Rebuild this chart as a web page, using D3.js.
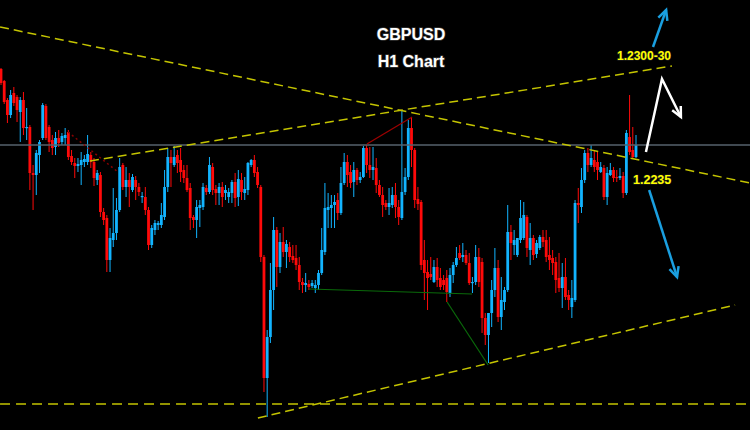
<!DOCTYPE html>
<html><head><meta charset="utf-8">
<script src="https://cdn.jsdelivr.net/npm/d3@7"></script>
<style>html,body{margin:0;padding:0;background:#000;}svg{display:block;}</style>
</head><body><svg id="c" width="750" height="430"></svg>
<script>
// GBPUSD H1 candles
const opens=[
1.22955,1.22895,1.22800,1.22725,1.22835,1.22815,1.22740,1.22800,1.22660,1.22665,
1.22435,1.22425,1.22525,1.22610,1.22770,1.22665,1.22600,1.22565,1.22610,1.22590,
1.22610,1.22640,1.22520,1.22485,1.22470,1.22475,1.22490,1.22490,1.22525,1.22490,
1.22400,1.22425,1.22240,1.22210,1.22000,1.22100,1.22135,1.22250,1.22475,1.22365,
1.22400,1.22350,1.22400,1.22365,1.22315,1.22315,1.22250,1.22075,1.22150,1.22175,
1.22175,1.22215,1.22365,1.22515,1.22475,1.22525,1.22500,1.22450,1.22410,1.22360,
1.22215,1.22200,1.22260,1.22265,1.22360,1.22340,1.22465,1.22355,1.22335,1.22365,
1.22335,1.22315,1.22335,1.22390,1.22315,1.22400,1.22335,1.22350,1.22475,1.22500,
1.22440,1.22365,1.22015,1.21410,1.21615,1.21850,1.22150,1.21965,1.22090,1.22040,
1.22065,1.22020,1.22010,1.21975,1.21890,1.21875,1.21880,1.21870,1.21860,1.21875,
1.21935,1.22040,1.22250,1.22260,1.22275,1.22300,1.22235,1.22385,1.22490,1.22440,
1.22390,1.22450,1.22400,1.22415,1.22560,1.22475,1.22450,1.22460,1.22375,1.22325,
1.22285,1.22265,1.22275,1.22325,1.22265,1.22210,1.22340,1.22415,1.22660,1.22550,
1.22305,1.22290,1.22000,1.21940,1.21930,1.21890,1.21965,1.21910,1.21900,1.21910,
1.21835,1.21925,1.21975,1.22035,1.22015,1.22025,1.21985,1.21885,1.21890,1.22015,
1.21990,1.21710,1.21625,1.21735,1.21850,1.21960,1.21715,1.21790,1.21850,1.22140,
1.22075,1.22025,1.22100,1.22110,1.22215,1.22050,1.22110,1.22030,1.22060,1.22115,
1.22100,1.22025,1.22010,1.21990,1.21910,1.21860,1.21915,1.21825,1.21765,1.21800,
1.22285,1.22265,1.22400,1.22535,1.22475,1.22500,1.22490,1.22440,1.22460,1.22315,
1.22425,1.22450,1.22415,1.22410,1.22420,1.22335,1.22615,1.22550,1.22515];
const highs=[
1.22960,1.22900,1.22810,1.22850,1.22865,1.22825,1.22815,1.22840,1.22760,1.22675,
1.22475,1.22550,1.22600,1.22785,1.22780,1.22675,1.22625,1.22640,1.22650,1.22635,
1.22660,1.22650,1.22550,1.22510,1.22510,1.22540,1.22525,1.22625,1.22540,1.22510,
1.22450,1.22440,1.22260,1.22225,1.22160,1.22360,1.22310,1.22510,1.22485,1.22465,
1.22435,1.22430,1.22420,1.22385,1.22340,1.22365,1.22265,1.22175,1.22200,1.22195,
1.22285,1.22450,1.22560,1.22550,1.22570,1.22550,1.22560,1.22475,1.22475,1.22385,
1.22225,1.22300,1.22300,1.22385,1.22375,1.22515,1.22485,1.22375,1.22385,1.22390,
1.22375,1.22360,1.22400,1.22435,1.22450,1.22435,1.22415,1.22490,1.22505,1.22525,
1.22465,1.22375,1.22025,1.21650,1.21985,1.22215,1.22165,1.22135,1.22165,1.22100,
1.22090,1.22075,1.22075,1.22015,1.21910,1.21935,1.21900,1.21900,1.21900,1.21950,
1.22160,1.22385,1.22335,1.22325,1.22325,1.22335,1.22465,1.22535,1.22525,1.22475,
1.22490,1.22460,1.22440,1.22570,1.22575,1.22565,1.22565,1.22510,1.22400,1.22365,
1.22300,1.22360,1.22365,1.22385,1.22300,1.22750,1.22460,1.22700,1.22715,1.22560,
1.22365,1.22300,1.22100,1.22000,1.22015,1.22000,1.22010,1.21960,1.21925,1.21950,
1.21960,1.21990,1.22065,1.22075,1.22085,1.22050,1.22035,1.21915,1.22075,1.22060,
1.22010,1.21735,1.21735,1.21900,1.22060,1.22000,1.21915,1.21865,1.22275,1.22175,
1.22150,1.22110,1.22300,1.22290,1.22225,1.22185,1.22125,1.22100,1.22125,1.22150,
1.22150,1.22115,1.22050,1.22015,1.22035,1.21985,1.22010,1.21850,1.21900,1.22300,
1.22360,1.22460,1.22550,1.22560,1.22575,1.22550,1.22540,1.22490,1.22475,1.22465,
1.22485,1.22465,1.22450,1.22460,1.22440,1.22650,1.22825,1.22665,1.22625];
const lows=[
1.22875,1.22780,1.22685,1.22710,1.22770,1.22690,1.22590,1.22625,1.22600,1.22350,
1.22250,1.22325,1.22435,1.22600,1.22600,1.22540,1.22525,1.22525,1.22565,1.22575,
1.22575,1.22500,1.22475,1.22410,1.22440,1.22375,1.22465,1.22475,1.22460,1.22370,
1.22375,1.22215,1.22175,1.21940,1.21940,1.22065,1.22100,1.22240,1.22350,1.22315,
1.22265,1.22340,1.22300,1.22320,1.22285,1.22225,1.22050,1.22060,1.22125,1.22150,
1.22160,1.22200,1.22340,1.22365,1.22465,1.22435,1.22390,1.22385,1.22340,1.22150,
1.22160,1.22110,1.22165,1.22250,1.22325,1.22330,1.22325,1.22275,1.22275,1.22265,
1.22300,1.22285,1.22285,1.22265,1.22270,1.22300,1.22300,1.22325,1.22465,1.22415,
1.22360,1.21990,1.21340,1.21215,1.21585,1.21750,1.21865,1.21935,1.22015,1.21960,
1.21990,1.21985,1.21950,1.21850,1.21835,1.21840,1.21850,1.21860,1.21835,1.21850,
1.21925,1.22025,1.22160,1.22160,1.22160,1.22200,1.22225,1.22375,1.22365,1.22360,
1.22315,1.22375,1.22385,1.22410,1.22435,1.22410,1.22400,1.22335,1.22315,1.22215,
1.22250,1.22225,1.22260,1.22210,1.22175,1.22200,1.22325,1.22400,1.22465,1.22260,
1.22250,1.21950,1.21800,1.21750,1.21900,1.21885,1.21865,1.21850,1.21850,1.21790,
1.21815,1.21885,1.21965,1.22000,1.21990,1.21975,1.21875,1.21835,1.21875,1.21865,
1.21635,1.21575,1.21485,1.21665,1.21815,1.21690,1.21650,1.21750,1.21840,1.22000,
1.22025,1.22015,1.22085,1.22100,1.22015,1.21975,1.22000,1.22010,1.22050,1.22065,
1.21990,1.21950,1.21925,1.21835,1.21840,1.21760,1.21800,1.21750,1.21710,1.21790,
1.22185,1.22235,1.22385,1.22440,1.22465,1.22440,1.22400,1.22435,1.22300,1.22275,
1.22420,1.22390,1.22390,1.22400,1.22310,1.22325,1.22525,1.22510,1.22510];
const closes=[
1.22885,1.22790,1.22725,1.22825,1.22785,1.22750,1.22800,1.22660,1.22665,1.22435,
1.22425,1.22535,1.22590,1.22775,1.22610,1.22590,1.22560,1.22610,1.22585,1.22620,
1.22625,1.22515,1.22490,1.22470,1.22480,1.22500,1.22505,1.22530,1.22490,1.22410,
1.22435,1.22240,1.22200,1.22000,1.22110,1.22135,1.22250,1.22465,1.22365,1.22400,
1.22365,1.22415,1.22365,1.22340,1.22320,1.22250,1.22075,1.22160,1.22185,1.22185,
1.22225,1.22365,1.22515,1.22485,1.22515,1.22485,1.22440,1.22410,1.22350,1.22210,
1.22200,1.22265,1.22275,1.22365,1.22340,1.22475,1.22350,1.22335,1.22365,1.22315,
1.22350,1.22340,1.22390,1.22310,1.22405,1.22340,1.22355,1.22485,1.22500,1.22435,
1.22375,1.22015,1.21410,1.21615,1.21850,1.22150,1.21965,1.22090,1.22040,1.22080,
1.22015,1.22000,1.21975,1.21890,1.21875,1.21885,1.21865,1.21885,1.21875,1.21935,
1.22050,1.22260,1.22265,1.22275,1.22290,1.22235,1.22385,1.22490,1.22425,1.22385,
1.22450,1.22400,1.22415,1.22560,1.22475,1.22450,1.22465,1.22375,1.22325,1.22275,
1.22265,1.22285,1.22325,1.22265,1.22215,1.22340,1.22415,1.22660,1.22550,1.22300,
1.22280,1.21975,1.21935,1.21910,1.21915,1.21965,1.21900,1.21865,1.21875,1.21840,
1.21925,1.21975,1.22010,1.22010,1.22025,1.21985,1.21885,1.21890,1.22015,1.21890,
1.21710,1.21625,1.21735,1.21850,1.21960,1.21715,1.21800,1.21850,1.22140,1.22085,
1.22100,1.22110,1.22210,1.22225,1.22060,1.22110,1.22025,1.22085,1.22115,1.22090,
1.22015,1.22000,1.21985,1.21900,1.21860,1.21915,1.21815,1.21800,1.21810,1.22285,
1.22275,1.22400,1.22535,1.22475,1.22510,1.22465,1.22450,1.22465,1.22315,1.22435,
1.22450,1.22410,1.22410,1.22420,1.22335,1.22635,1.22540,1.22515,1.22575];

// annotation levels / lines, as [bar index, price]
const resistanceLevel = 1.22575;
const bottomLevel = 1.21280;
const descTrend = [[-0.3,1.23165],[233.5,1.22385]];
const upperTrend = [[27.75,1.22495],[209.2,1.22970]];
const lowerTrend = [[80.1,1.21210],[228.9,1.21775]];
const redLine = [[114.1,1.22580],[128.2,1.22715]];
const redDotted = [[20.9,1.22640],[36.5,1.22440]];
const greenFlat = [[96.0,1.21855],[146.9,1.21830]];
const greenDiag = [[139.1,1.21790],[151.9,1.21475]];
const blueUp = [[203.3,1.23065],[207.4,1.23250]];
const blueDown = [[202.1,1.22350],[210.8,1.21915]];
const whitePath = [[201.1,1.22540],[206.1,1.22905],[212.0,1.22715]];
const titleLines = ["GBPUSD","H1 Chart"];
const targetLabel = "1.2300-30";
const pivotLabel = "1.2235";

const W=750,H=430;
const svg=d3.select('#c');
svg.append('rect').attr('width',W).attr('height',H).attr('fill','#000');
const x=d3.scaleLinear().domain([0,198]).range([1,636]);
const y=d3.scaleLinear().domain([1.2330,1.2115]).range([0,430]);
const line=d3.line().x(d=>x(d[0])).y(d=>y(d[1]));

const BLUE='#12b4ff', RED='#ff0a0a';
const data=opens.map((o,i)=>({i,o,h:highs[i],l:lows[i],c:closes[i]}));

const g=svg.append('g');
g.selectAll('line.wick').data(data).join('line')
 .attr('x1',d=>x(d.i)).attr('x2',d=>x(d.i))
 .attr('y1',d=>y(d.h)).attr('y2',d=>y(d.l))
 .attr('stroke',d=>d.c>=d.o?BLUE:RED).attr('stroke-width',1);
g.selectAll('rect.body').data(data).join('rect')
 .attr('x',d=>x(d.i)-1.4).attr('width',2.8)
 .attr('y',d=>y(Math.max(d.o,d.c)))
 .attr('height',d=>Math.max(1.2,Math.abs(y(d.o)-y(d.c))))
 .attr('fill',d=>d.c>=d.o?BLUE:RED);

// horizontal resistance line
svg.append('line').attr('x1',0).attr('x2',W).attr('y1',y(resistanceLevel)).attr('y2',y(resistanceLevel))
 .attr('stroke','#56626c').attr('stroke-width',1.5);

const YEL='#c4c400';
[descTrend,upperTrend,lowerTrend].forEach(t=>{
  svg.append('path').attr('d',line(t)).attr('fill','none').attr('stroke',YEL)
   .attr('stroke-width',1.5).attr('stroke-dasharray','9,5');
});
svg.append('path').attr('d',line([[-0.3,bottomLevel],[233.5,bottomLevel]])).attr('fill','none')
 .attr('stroke',YEL).attr('stroke-width',1.5).attr('stroke-dasharray','10,6');

svg.append('path').attr('d',line(redLine)).attr('fill','none').attr('stroke','#a00000').attr('stroke-width',1.2);
svg.append('path').attr('d',line(redDotted)).attr('fill','none').attr('stroke','#8a0000').attr('stroke-width',1.5).attr('stroke-dasharray','2,3');
[greenFlat,greenDiag].forEach(t=>svg.append('path').attr('d',line(t)).attr('fill','none').attr('stroke','#0a6a0a').attr('stroke-width',1.2));

function arrow(pts,color,w){
  svg.append('path').attr('d',line(pts)).attr('fill','none').attr('stroke',color).attr('stroke-width',w).attr('stroke-linejoin','miter');
  const a=pts[pts.length-2], b=pts[pts.length-1];
  const x1=x(a[0]),y1=y(a[1]),x2=x(b[0]),y2=y(b[1]);
  const ang=Math.atan2(y2-y1,x2-x1), L=11, sp=0.45;
  const p1=[x2-L*Math.cos(ang-sp),y2-L*Math.sin(ang-sp)];
  const p2=[x2-L*Math.cos(ang+sp),y2-L*Math.sin(ang+sp)];
  svg.append('path').attr('d',`M${p1}L${x2},${y2}L${p2}`).attr('fill','none').attr('stroke',color).attr('stroke-width',w);
}
arrow(blueUp,'#1a9fe0',2.5);
arrow(blueDown,'#1a9fe0',2.5);
arrow(whitePath,'#ffffff',2.5);

const ff='"Liberation Sans",Arial,sans-serif';
svg.selectAll('text.title').data(titleLines).join('text')
 .attr('x',411).attr('y',(d,i)=>40+i*27).attr('text-anchor','middle')
 .attr('font-family',ff).attr('font-weight','bold').attr('font-size',16)
 .attr('fill','#fff').attr('stroke','#333').attr('stroke-width',1.5).attr('paint-order','stroke')
 .text(d=>d);
svg.append('text').attr('x',644).attr('y',60).attr('text-anchor','middle')
 .attr('font-family',ff).attr('font-weight','bold').attr('font-size',12)
 .attr('fill','#ffff00').attr('stroke','#222').attr('stroke-width',1.2).attr('paint-order','stroke').text(targetLabel);
svg.append('text').attr('x',633).attr('y',184)
 .attr('font-family',ff).attr('font-weight','bold').attr('font-size',12.5)
 .attr('fill','#ffff00').attr('stroke','#222').attr('stroke-width',1.2).attr('paint-order','stroke').text(pivotLabel);
</script></body></html>
